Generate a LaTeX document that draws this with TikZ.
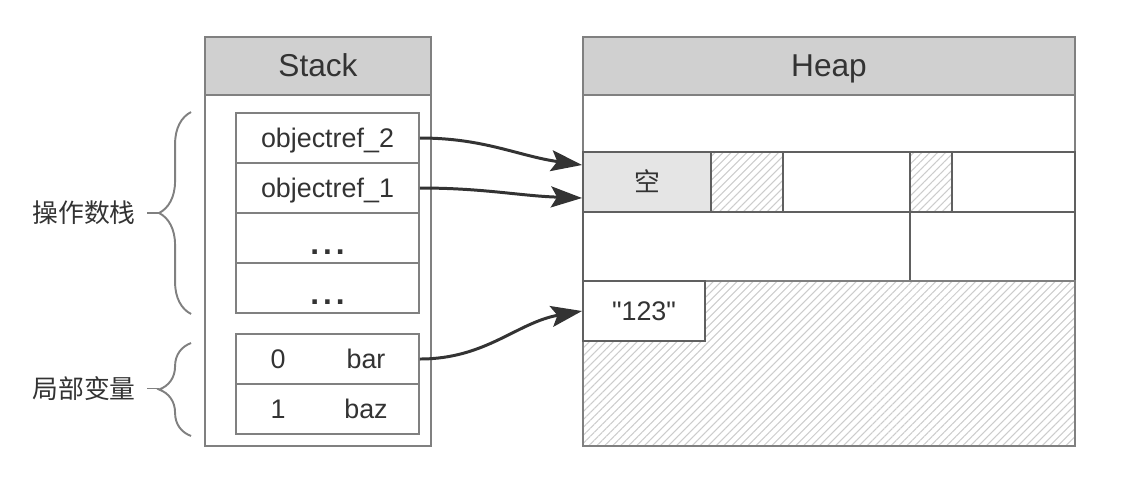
\documentclass[tikz,border=0pt]{standalone}
\usepackage{fontspec}
\setmainfont{Liberation Sans}
\newfontfamily\cjk{Noto Sans CJK SC}
\usepackage{xcolor}
\usepackage{tikz}
\usetikzlibrary{arrows.meta, positioning, calc, patterns.meta, decorations.pathreplacing}
\definecolor{ink}{RGB}{51, 51, 51}
\definecolor{frm}{RGB}{128, 128, 128}
\definecolor{grd}{RGB}{96, 96, 96}
\definecolor{hdr}{RGB}{208, 208, 208}
\definecolor{emp}{RGB}{229, 229, 229}
\newcommand{\dq}{\XeTeXglyph\XeTeXcharglyph"22\relax}

\begin{document}
\begin{tikzpicture}[
    x=0.02cm, y=-0.02cm,
    >={Stealth[length=0.62cm, width=0.42cm, inset=0.12cm]},
    frame/.style={rectangle, draw=frm, line width=1.1pt, minimum height=8.18cm},
    head/.style={rectangle, draw=frm, fill=hdr, line width=1.1pt,
      minimum height=1.16cm, text height=12.9pt, text depth=0.5pt,
      font=\fontsize{18}{20}\selectfont, text=ink},
    cell/.style={rectangle, draw=frm, fill=white, line width=1.1pt,
      minimum width=3.66cm, minimum height=1cm, text height=11pt, text depth=0pt,
      font=\fontsize{15.3}{17}\selectfont, text=ink},
    hcell/.style={rectangle, draw=grd, line width=1.1pt, inner sep=0pt,
      text height=11pt, text depth=0pt,
      font=\fontsize{15.3}{17}\selectfont, text=ink},
    hatch/.style={pattern={Lines[angle=45, distance=3.2pt, line width=0.6pt]},
      pattern color=gray!40},
    txt/.style={font=\fontsize{15.3}{17}\selectfont, text=ink, inner sep=0pt,
      text height=11pt, text depth=0pt},
    brc/.style={decorate, decoration={brace, amplitude=0.64cm},
      draw=frm, line width=1.1pt},
    lbl/.style={font=\cjk\fontsize{14.7}{16}\selectfont, text=ink, inner sep=0pt},
    ref/.style={->, draw=ink, line width=1.7pt}
  ]
  \useasboundingbox (0,0) rectangle (1130,478);

  % stack
  \node[frame, minimum width=4.52cm] (stack) at (318,241.5) {};
  \node[head, minimum width=4.52cm] (stackhd) at (318,66) {Stack};
  \node[cell] (o2) at (327.5,138) {objectref\_2};
  \node[cell] (o1) at (327.5,188) {objectref\_1};
  \node[cell] (d1) at (327.5,238) {};
  \node[cell] (d2) at (327.5,288) {};
  \foreach \c in {d1, d2} {
    \node[inner sep=0pt, text=ink, font=\bfseries\fontsize{18}{18}\selectfont, yshift=-0.28cm]
      at (\c.center) {.\hspace{0.08cm}.\hspace{0.08cm}.};
  }
  \node[cell] (lv0) at (327.5,359) {};
  \node[cell] (lv1) at (327.5,409) {};
  \node[txt] (n0) at ([xshift=-0.99cm]lv0.center) {0};
  \node[txt] (v0) at ([xshift=0.77cm]lv0.center) {bar};
  \node[txt] (n1) at ([xshift=-0.99cm]lv1.center) {1};
  \node[txt] (v1) at ([xshift=0.77cm]lv1.center) {baz};

  % braces
  \draw[brc] ([xshift=-0.88cm]d2.south west) -- ([xshift=-0.88cm]o2.north west);
  \coordinate (ot) at ($(o2.north west)!0.5!(d2.south west)+(-1.52cm,0)$);
  \draw[draw=frm, line width=1.1pt] (ot) -- ++(-0.24cm,0) coordinate (ol);
  \node[lbl, left=0.22cm of ol] (opl) {操作数栈};
  \draw[brc] ([xshift=-0.88cm, yshift=-0.02cm]lv1.south west)
    -- ([xshift=-0.88cm, yshift=-0.2cm]lv0.north west);
  \coordinate (lt) at ($(lv0.north west)!0.5!(lv1.south west)+(-1.52cm,-0.09cm)$);
  \draw[draw=frm, line width=1.1pt] (lt) -- ++(-0.24cm,0) coordinate (ll);
  \node[lbl, left=0.22cm of ll] (lvl) {局部变量};

  % heap
  \node[frame, minimum width=9.84cm] (heap) at (829,241.5) {};
  \node[head, minimum width=9.84cm] (heaphd) at (829,66) {Heap};
  \node[hcell, fill=emp, minimum width=2.56cm, minimum height=1.2cm,
    font=\cjk\fontsize{14.7}{16}\selectfont] (e0) at (647,182) {空};
  \node[hcell, hatch, minimum width=1.44cm, minimum height=1.2cm] (h1) at (747,182) {};
  \node[hcell, minimum width=2.54cm, minimum height=1.2cm] (w1) at (846.5,182) {};
  \node[hcell, hatch, minimum width=0.84cm, minimum height=1.2cm] (h2) at (931,182) {};
  \node[hcell, minimum width=2.46cm, minimum height=1.2cm] (w2) at (1013.5,182) {};
  \node[hcell, minimum width=6.54cm, minimum height=1.38cm] (r3a) at (746.5,246.5) {};
  \node[hcell, minimum width=3.3cm, minimum height=1.38cm] (r3b) at (992.5,246.5) {};
  \node[hcell, hatch, draw=frm, minimum width=9.84cm, minimum height=3.3cm] (free) at (829,363.5) {};
  \node[hcell, fill=white, minimum width=2.44cm, minimum height=1.2cm] (str) at (644,311)
    {\dq 123\dq};

  % references
  \draw[ref] (o2.east) to[out=0, in=172] ([yshift=0.34cm]e0.west);
  \draw[ref] (o1.east) to[out=0, in=178] ([yshift=-0.32cm]e0.west);
  \draw[ref] (lv0.east) to[out=0, in=190] (str.west);
\end{tikzpicture}
\end{document}
